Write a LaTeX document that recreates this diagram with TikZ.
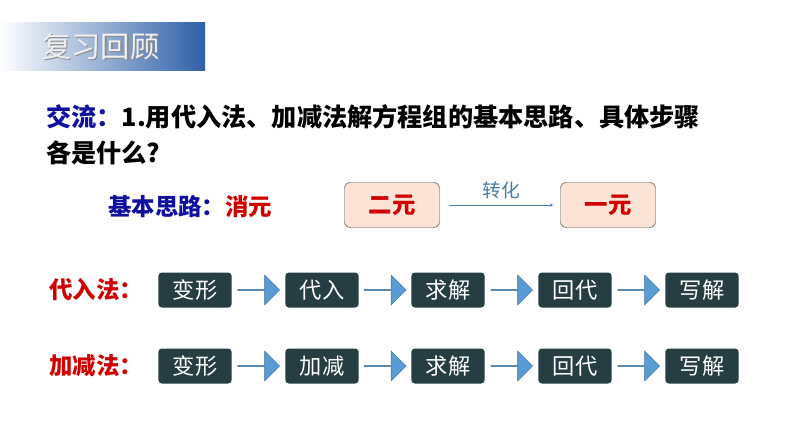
\documentclass[tikz,border=0pt]{standalone}
\usepackage{fontspec}
\setmainfont{Noto Sans CJK SC}
\usetikzlibrary{positioning,shapes.arrows,calc}
\definecolor{stepgray}{HTML}{263D42}
\definecolor{arrowblue}{HTML}{5B9BD5}
\definecolor{titleblue}{HTML}{2E5FA8}
\definecolor{pinkfill}{HTML}{FBE3D6}
\definecolor{labelblue}{HTML}{1010A0}
\definecolor{labelred}{HTML}{D00000}
\tikzset{
  stepbox/.style={rectangle, rounded corners=3pt, fill=stepgray, text=white, minimum width=2.2cm, minimum height=1.05cm, font=\fontsize{19}{22}\selectfont},
  blockarrow/.style={single arrow, draw=arrowblue!70!black, fill=arrowblue, minimum height=1.25cm, minimum width=0.9cm, single arrow head extend=0.17cm, inner sep=0pt},
  unitbox/.style={rectangle, rounded corners=5pt, draw=black!70, fill=pinkfill, text=labelred, minimum width=2.85cm, minimum height=1.35cm, font=\fontsize{20}{23}\selectfont\bfseries},
  rowlabel/.style={anchor=west, text=labelred, font=\fontsize{20}{23}\selectfont\bfseries}
}
\begin{document}
\begin{tikzpicture}[x=0.03cm, y=-0.03cm]
  \useasboundingbox (0,0) rectangle (794,447);
  % header
  \shade[left color=white, right color=titleblue] (0,22) rectangle (205,70);
  \node (shadow) [anchor=west, text=black!45, font=\fontsize{25}{28}\selectfont] at (39.5,47.5) {复习回顾};
  \node (title) [anchor=west, text=black!6, font=\fontsize{25}{28}\selectfont] at (38,46) {复习回顾};
  % question
  \node (q1) [anchor=west, font=\fontsize{21.5}{25}\selectfont\bfseries] at (42,117) {\textcolor{labelblue}{交流：}1.用代入法、加减法解方程组的基本思路、具体步骤};
  \node (q2) [anchor=west, font=\fontsize{21.5}{25}\selectfont\bfseries] at (42,153) {各是什么?};
  % basic idea
  \node (idea) [anchor=west, font=\fontsize{20}{23}\selectfont\bfseries] at (104,207) {\textcolor{labelblue}{基本思路：}\textcolor{labelred}{消元}};
  \node[unitbox] (two) at (392,205) {二元};
  \node[unitbox] (one) at (608,205) {一元};
  \draw[-stealth, arrowblue!80!black, thin] ([xshift=8]two.east) -- ([xshift=-6]one.west) node[midway, above=2pt, text=arrowblue!80!black, font=\fontsize{16}{18}\selectfont] (conv) {转化};
  % rows
  \node[rowlabel] (lab1) at (45,290) {代入法：};
  \node[rowlabel] (lab2) at (45,366) {加减法：};
  \foreach \row/\y/\second in {a/290/代入, b/366/加减} {
    \node[stepbox] (\row1) at (195,\y) {变形};
    \node[stepbox] (\row2) at (322,\y) {\second};
    \node[stepbox] (\row3) at (448,\y) {求解};
    \node[stepbox] (\row4) at (575,\y) {回代};
    \node[stepbox] (\row5) at (702,\y) {写解};
    \foreach \i/\j in {1/2,2/3,3/4,4/5}
      \node[blockarrow] at ($(\row\i)!0.5!(\row\j)$) {};
  }
\end{tikzpicture}
\end{document}
